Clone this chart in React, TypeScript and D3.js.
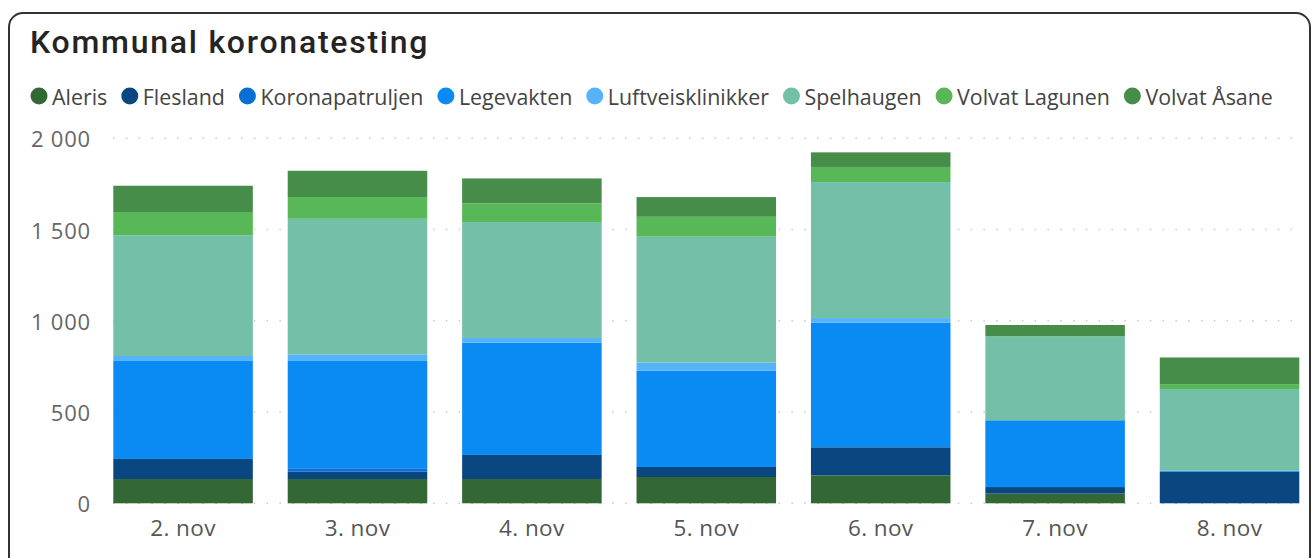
import { useEffect, useRef } from "react";
import * as d3 from "d3";

const days = ["2. nov", "3. nov", "4. nov", "5. nov", "6. nov", "7. nov", "8. nov"];
const series = ["Aleris", "Flesland", "Koronapatruljen", "Legevakten", "Luftveisklinikker", "Spelhaugen", "Volvat Lagunen", "Volvat Åsane"];
const colors = ["#336733", "#0a4680", "#0b6ed4", "#0a8af3", "#56b3f9", "#73bfa7", "#58b858", "#478d4a"];

const aleris = [133, 133, 133, 144, 153, 53, 0];
const flesland = [110, 40, 132, 55, 154, 36, 173];
const koronapatruljen = [0, 19, 0, 0, 0, 0, 0];
const legevakten = [537, 588, 615, 528, 683, 366, 6];
const luftveisklinikker = [27, 36, 26, 44, 25, 0, 0];
const spelhaugen = [661, 743, 635, 690, 745, 460, 447];
const volvatLagunen = [128, 119, 102, 109, 83, 0, 27];
const volvatAsane = [144, 144, 137, 108, 80, 62, 146];

const yTicks = [0, 500, 1000, 1500, 2000];
const fmt = (v: number) => d3.format(",")(v).replace(/,/g, " ");

export default function App() {
    const ref = useRef<SVGSVGElement>(null);

    useEffect(() => {
        const width = 1313;
        const height = 558;
        const uiFont = "'Open Sans', sans-serif";

        const svg = d3.select(ref.current)
            .attr("width", width)
            .attr("height", height);
        svg.selectAll("*").remove();

        // card frame
        svg.append("rect")
            .attr("x", 9).attr("y", 13)
            .attr("width", 1301).attr("height", 560)
            .attr("rx", 14)
            .attr("fill", "#fff")
            .attr("stroke", "#333")
            .attr("stroke-width", 2);

        svg.append("text")
            .attr("x", 30).attr("y", 53)
            .attr("font-family", "Roboto, sans-serif")
            .attr("font-size", 32)
            .attr("font-weight", 500)
            .attr("letter-spacing", 1.75)
            .attr("fill", "#252423")
            .text("Kommunal koronatesting");

        // legend
        const cols = [aleris, flesland, koronapatruljen, legevakten, luftveisklinikker, spelhaugen, volvatLagunen, volvatAsane];
        let cx = 39;
        series.forEach((name, i) => {
            const g = svg.append("g");
            g.append("circle")
                .attr("cx", cx).attr("cy", 96).attr("r", 8.5)
                .attr("fill", colors[i]);
            const t = g.append("text")
                .attr("x", cx + 13).attr("y", 96)
                .attr("dominant-baseline", "central")
                .attr("font-family", uiFont)
                .attr("font-size", 21.4)
                .attr("fill", "#444")
                .text(name);
            const w = (t.node() as SVGTextElement).getComputedTextLength();
            cx += 13 + w + 22.5;
        });

        const x = d3.scaleBand<string>()
            .domain(days)
            .range([113.3, 1299.3])
            .paddingInner(0.2)
            .paddingOuter(0);

        const y = d3.scaleLinear()
            .domain([0, 2000])
            .range([503.3, 138.3]);

        // gridlines
        svg.append("g")
            .selectAll("line")
            .data(yTicks)
            .join("line")
            .attr("x1", 113).attr("x2", 1300)
            .attr("y1", d => y(d)).attr("y2", d => y(d))
            .attr("stroke", "#c8c8c8")
            .attr("stroke-width", 1.5)
            .attr("stroke-dasharray", "1.5 11.3");

        svg.append("g")
            .selectAll("text")
            .data(yTicks)
            .join("text")
            .attr("x", 91)
            .attr("y", d => y(d))
            .attr("text-anchor", "end")
            .attr("dominant-baseline", "central")
            .attr("font-family", uiFont)
            .attr("font-size", 22)
            .attr("letter-spacing", 0.8)
            .attr("fill", "#666")
            .text(d => fmt(d));

        const table = days.map((d, i) => {
            const row: Record<string, any> = { day: d };
            series.forEach((s, j) => { row[s] = cols[j][i]; });
            return row;
        });

        const stacked = d3.stack<any>().keys(series)(table);

        svg.append("g")
            .selectAll("g")
            .data(stacked)
            .join("g")
            .attr("fill", (_, i) => colors[i])
            .selectAll("rect")
            .data(d => d)
            .join("rect")
            .attr("x", d => x(d.data.day)!)
            .attr("width", x.bandwidth())
            .attr("y", d => y(d[1]))
            .attr("height", d => y(d[0]) - y(d[1]));

        svg.append("g")
            .selectAll("text")
            .data(days)
            .join("text")
            .attr("x", d => x(d)! + x.bandwidth() / 2)
            .attr("y", 527)
            .attr("text-anchor", "middle")
            .attr("dominant-baseline", "central")
            .attr("font-family", uiFont)
            .attr("font-size", 22.5)
            .attr("letter-spacing", 0.4)
            .attr("fill", "#555")
            .text(d => d);
    }, []);

    return <svg ref={ref} style={{ position: "absolute", left: 0, top: 0 }}></svg>;
}
